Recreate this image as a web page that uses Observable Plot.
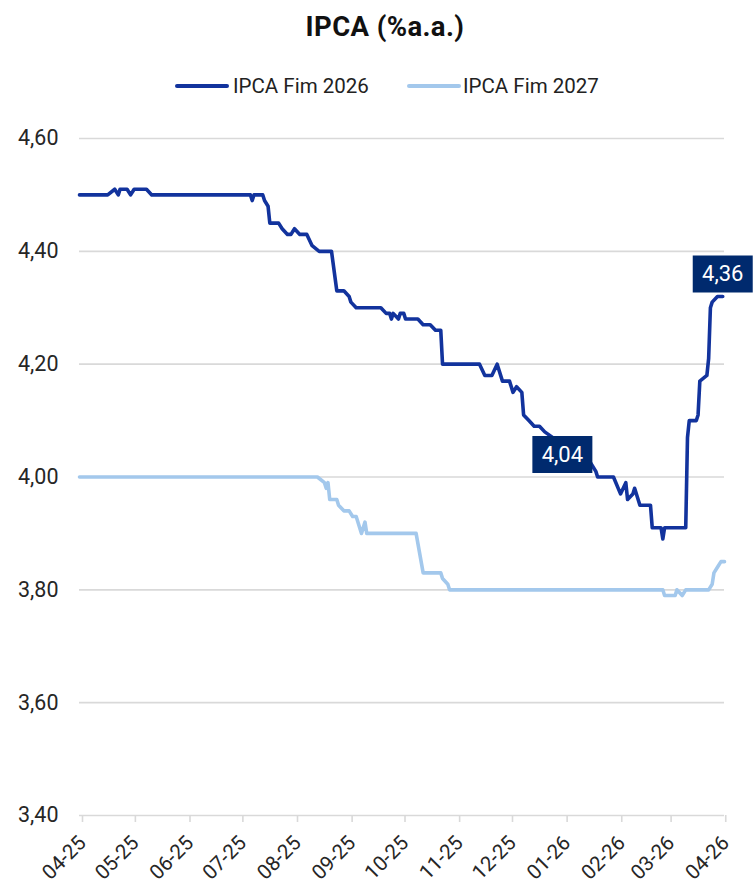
<!DOCTYPE html>
<html>
<head>
<meta charset="utf-8">
<script src="https://cdn.jsdelivr.net/npm/d3@7"></script>
<script src="https://cdn.jsdelivr.net/npm/@observablehq/plot@0.6"></script>
<style>
  body { margin: 0; background: #fff; font-family: Roboto, "Noto Sans", sans-serif; }
  #wrap { position: relative; width: 754px; height: 891px; }
  #title { position: absolute; top: 0; left: 8px; width: 754px; height: 54px; line-height: 54px;
           text-align: center; font-weight: 700; font-size: 27.5px; color: #111; letter-spacing: 0.4px; }
  #legend { position: absolute; top: 60px; left: 0; width: 754px; height: 50px; }
  .sw { position: absolute; top: 24px; height: 4px; border-radius: 2px; }
  .lt { position: absolute; top: 13px; font-size: 20.5px; color: #222; line-height: 26px; white-space: nowrap; }
  #chart { position: absolute; top: 110px; left: 0; }
</style>
</head>
<body>
<div id="wrap">
  <div id="title">IPCA (%a.a.)</div>
  <div id="legend"></div>
  <div id="chart"></div>
</div>
<script>
// ---- data ----
const seriesNames = ["IPCA Fim 2026", "IPCA Fim 2027"];
const seriesColors = ["#12339d", "#a3c8ec"];

const fim2026 = [
  ["2025-04-01",4.50],["2025-04-17",4.50],["2025-04-21",4.51],["2025-04-23",4.50],["2025-04-24",4.51],
  ["2025-04-28",4.51],["2025-04-30",4.50],["2025-05-02",4.51],["2025-05-09",4.51],["2025-05-12",4.50],
  ["2025-07-07",4.50],["2025-07-08",4.49],["2025-07-09",4.50],["2025-07-14",4.50],["2025-07-15",4.49],
  ["2025-07-17",4.48],["2025-07-18",4.45],["2025-07-23",4.45],["2025-07-25",4.44],["2025-07-28",4.43],
  ["2025-07-30",4.43],["2025-08-01",4.44],["2025-08-04",4.43],["2025-08-08",4.43],["2025-08-11",4.41],
  ["2025-08-15",4.40],["2025-08-22",4.40],["2025-08-25",4.33],["2025-08-29",4.33],["2025-09-01",4.32],
  ["2025-09-02",4.31],["2025-09-05",4.30],["2025-09-19",4.30],["2025-09-22",4.29],["2025-09-24",4.29],
  ["2025-09-25",4.28],["2025-09-26",4.29],["2025-09-29",4.28],["2025-09-30",4.29],["2025-10-02",4.29],
  ["2025-10-03",4.28],["2025-10-10",4.28],["2025-10-13",4.27],["2025-10-17",4.27],["2025-10-20",4.26],
  ["2025-10-23",4.26],["2025-10-24",4.20],["2025-11-14",4.20],["2025-11-17",4.18],["2025-11-21",4.18],
  ["2025-11-24",4.20],["2025-11-27",4.17],["2025-12-01",4.17],["2025-12-03",4.15],["2025-12-05",4.16],
  ["2025-12-08",4.15],["2025-12-09",4.11],["2025-12-12",4.10],["2025-12-15",4.09],["2025-12-18",4.09],
  ["2025-12-21",4.08],["2025-12-30",4.06],["2026-01-07",4.05],["2026-01-15",4.03],["2026-01-17",4.02],
  ["2026-01-19",4.01],["2026-01-20",4.00],["2026-01-29",4.00],["2026-02-02",3.97],["2026-02-05",3.99],
  ["2026-02-06",3.96],["2026-02-09",3.97],["2026-02-10",3.98],["2026-02-13",3.95],["2026-02-19",3.95],
  ["2026-02-20",3.91],["2026-02-25",3.91],["2026-02-26",3.89],["2026-02-27",3.91],["2026-03-11",3.91],
  ["2026-03-12",4.07],["2026-03-13",4.10],["2026-03-17",4.10],["2026-03-18",4.11],["2026-03-19",4.17],
  ["2026-03-23",4.18],["2026-03-24",4.21],["2026-03-25",4.30],["2026-03-26",4.31],["2026-03-29",4.32],
  ["2026-04-01",4.32]
];

const fim2027 = [
  ["2025-04-01",4.00],["2025-08-14",4.00],["2025-08-18",3.99],["2025-08-19",3.98],["2025-08-20",3.99],
  ["2025-08-21",3.96],["2025-08-25",3.96],["2025-08-26",3.95],["2025-08-29",3.94],["2025-09-01",3.94],
  ["2025-09-03",3.93],["2025-09-05",3.93],["2025-09-08",3.90],["2025-09-10",3.92],["2025-09-11",3.90],
  ["2025-10-09",3.90],["2025-10-13",3.83],["2025-10-23",3.83],["2025-10-24",3.82],["2025-10-27",3.81],
  ["2025-10-28",3.80],["2026-02-26",3.80],["2026-02-27",3.79],["2026-03-05",3.79],["2026-03-06",3.80],
  ["2026-03-09",3.79],["2026-03-11",3.80],["2026-03-24",3.80],["2026-03-26",3.81],["2026-03-27",3.83],
  ["2026-03-29",3.84],["2026-03-31",3.85],["2026-04-02",3.85]
];

const callouts = [["2025-12-31",4.04,"4,04"],["2026-04-01",4.36,"4,36"]];

const yTicks = [3.40, 3.60, 3.80, 4.00, 4.20, 4.40, 4.60];
const xTickDates = ["2025-04-01","2025-05-01","2025-06-01","2025-07-01","2025-08-01","2025-09-01",
  "2025-10-01","2025-11-01","2025-12-01","2026-01-01","2026-02-01","2026-03-01","2026-04-01"];
const xTickLabels = ["04-25","05-25","06-25","07-25","08-25","09-25","10-25","11-25","12-25","01-26","02-26","03-26","04-26"];
const xDomain = ["2025-04-01","2026-04-02"];

// ---- build ----
const rows = [
  ...fim2026.map(([d, v]) => ({date: new Date(d), value: v, series: seriesNames[0]})),
  ...fim2027.map(([d, v]) => ({date: new Date(d), value: v, series: seriesNames[1]}))
];
const calloutRows = callouts.map(([d, v, t]) => ({date: new Date(d), value: v, text: t}));
const tickDates = xTickDates.map(d => new Date(d));
const labelOf = new Map(tickDates.map((d, i) => [+d, xTickLabels[i]]));

const boxSymbol = { draw(ctx) { ctx.rect(-30, -18.5, 60, 37); } };

const chart = Plot.plot({
  width: 754,
  height: 781,
  marginTop: 28,
  marginBottom: 76,
  marginLeft: 79,
  marginRight: 30,
  style: { fontFamily: "Roboto, 'Noto Sans', sans-serif", background: "#fff" },
  x: { type: "utc", domain: xDomain.map(d => new Date(d)), label: null },
  y: { domain: [3.4, 4.6], label: null },
  color: { domain: seriesNames, range: seriesColors },
  marks: [
    Plot.ruleY(yTicks, { stroke: "#d9d9d9", strokeWidth: 1.6 }),
    Plot.axisY({ ticks: yTicks, tickSize: 0, tickPadding: 21, fontSize: 21.5, fill: "#262626", label: null,
                 tickFormat: d => d.toFixed(2).replace(".", ",") }),
    Plot.axisX({ ticks: tickDates, tickSize: 7, stroke: "#d9d9d9", strokeWidth: 1.6, label: null,
                 tickRotate: -45, tickPadding: 17, dx: 3, fontSize: 20.5, fill: "#262626",
                 tickFormat: d => labelOf.get(+d) }),
    Plot.line(rows.filter(r => r.series === seriesNames[1]),
      { x: "date", y: "value", stroke: "series", strokeWidth: 3.6, strokeLinejoin: "round", strokeLinecap: "round" }),
    Plot.line(rows.filter(r => r.series === seriesNames[0]),
      { x: "date", y: "value", stroke: "series", strokeWidth: 3.6, strokeLinejoin: "round", strokeLinecap: "round" }),
    Plot.dot(calloutRows, { x: "date", y: "value", symbol: boxSymbol, r: 10, fill: "#002a6e", stroke: null }),
    Plot.text(calloutRows, { x: "date", y: "value", text: "text", fill: "#fff", fontSize: 22, dy: 0.5 })
  ]
});
document.getElementById("chart").appendChild(chart);

// ---- legend ----
const legend = document.getElementById("legend");
const legendPos = [[175, 233], [407, 463]];
seriesNames.forEach((name, i) => {
  const sw = document.createElement("div");
  sw.className = "sw";
  sw.style.left = legendPos[i][0] + "px";
  sw.style.width = "54px";
  sw.style.background = seriesColors[i];
  legend.appendChild(sw);
  const t = document.createElement("div");
  t.className = "lt";
  t.style.left = legendPos[i][1] + "px";
  t.textContent = name;
  legend.appendChild(t);
});
</script>
</body>
</html>
